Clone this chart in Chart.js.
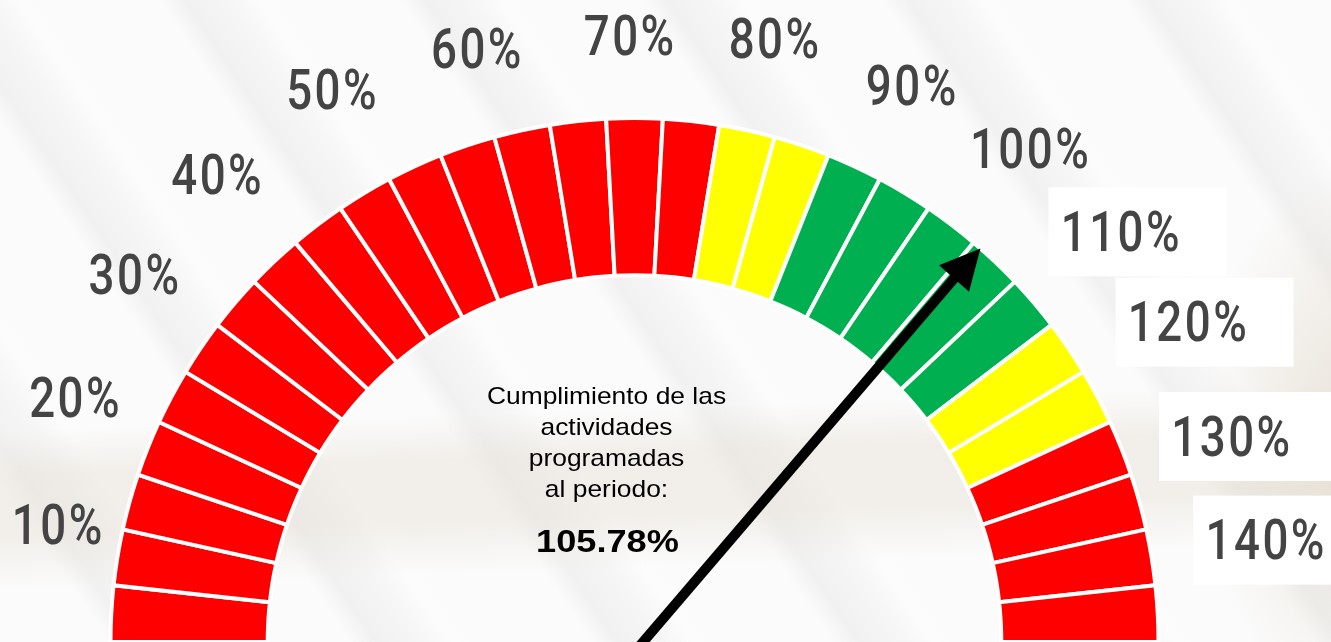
<!DOCTYPE html>
<html>
<head>
<meta charset="utf-8">
<title>Cumplimiento de las actividades</title>
<script src="https://cdn.jsdelivr.net/npm/chart.js@4.4.1/dist/chart.umd.min.js"></script>
<style>
  html, body { margin: 0; padding: 0; }
  body {
    width: 1331px;
    height: 642px;
    overflow: hidden;
    background:
      radial-gradient(ellipse 190px 360px at 1345px 440px, rgba(225, 216, 202, 0.7), rgba(225, 216, 202, 0) 75%),
      linear-gradient(178deg, rgba(230, 223, 212, 0) 430px, rgba(230, 223, 212, 0.45) 475px, rgba(230, 223, 212, 0.45) 535px, rgba(230, 223, 212, 0) 590px),
      repeating-linear-gradient(56deg, #fbfbfb 0px, #fbfbfb 90px, #f1f1f1 112px, #f6f6f6 150px, #fcfcfc 175px, #fbfbfb 200px),
      #f9f9f9;
  }
  canvas { display: block; }
</style>
</head>
<body>
<canvas id="gauge-chart" width="1331" height="642"></canvas>
<script>
// 29 segments of 5% each, scale 0 - 145%
const segmentValues = [5, 5, 5, 5, 5, 5, 5, 5, 5, 5, 5, 5, 5, 5, 5, 5, 5, 5, 5, 5, 5, 5, 5, 5, 5, 5, 5, 5, 5];
const bandLimits = [80, 90, 115, 125, 145];
const bandColors = ['#ff0000', '#ffff00', '#00b050', '#ffff00', '#ff0000'];

const tickValues = [10, 20, 30, 40, 50, 60, 70, 80, 90, 100, 110, 120, 130, 140];
const tickLabels = ['10%', '20%', '30%', '40%', '50%', '60%', '70%', '80%', '90%', '100%', '110%', '120%', '130%', '140%'];
const boxedTicks = [110, 120, 130, 140];

const cumplimiento = 105.78;
const centerLines = ['Cumplimiento de las', 'actividades', 'programadas', 'al periodo:'];
const centerValue = '105.78%';

// layout tweaks for the tick labels: [angle nudge in degrees, radius]
const labelNudge = [
  [-0.9, 588], [-1.2, 610], [-0.9, 620], [-1.4, 626], [-0.7, 630], [0.7, 614], [2.7, 607],
  [3.8, 620], [4.8, 622], [4.6, 633], [3.3, 637], [1.0, 640], [-0.4, 632], [-3.0, 640]
];


const segmentColors = () => {
  const colors = [];
  let end = 0;
  segmentValues.forEach((v) => {
    end += v;
    const band = bandLimits.findIndex((limit) => end <= limit);
    colors.push(bandColors[band]);
  });
  return colors;
};

const scaleMax = () => segmentValues.reduce((a, b) => a + b, 0);

const stretchedText = (ctx, text, x, y, sx) => {
  ctx.save();
  ctx.translate(x, y);
  ctx.scale(sx, 1);
  ctx.fillText(text, 0, 0);
  ctx.restore();
};

const gaugeExtras = {
  id: 'gaugeExtras',
  afterDraw(chart) {
    const ctx = chart.ctx;
    const arc = chart.getDatasetMeta(0).data[0];
    const cx = arc.x;
    const cy = arc.y;
    const outer = arc.outerRadius;
    const angleFor = (v) => -Math.PI + (v / scaleMax()) * Math.PI;

    // tick labels
    ctx.save();
    ctx.font = '500 55px Roboto';
    ctx.letterSpacing = '3px';
    ctx.textAlign = 'center';
    ctx.textBaseline = 'alphabetic';
    tickValues.forEach((v, i) => {
      const a = angleFor(v) + labelNudge[i][0] * Math.PI / 180;
      const r = labelNudge[i][1];
      const x = cx + r * Math.cos(a);
      const y = cy + r * Math.sin(a);
      if (boxedTicks.includes(v)) {
        ctx.fillStyle = '#ffffff';
        ctx.fillRect(x - 73, y - 44, 178, 89);
      }
      ctx.fillStyle = '#444444';
      stretchedText(ctx, tickLabels[i], x, y + 19.5, 0.83);
    });
    ctx.restore();

    // text in the middle
    ctx.save();
    ctx.fillStyle = '#000000';
    ctx.textAlign = 'center';
    ctx.textBaseline = 'middle';
    ctx.font = '24px "Liberation Sans", Arial, sans-serif';
    centerLines.forEach((line, i) => {
      stretchedText(ctx, line, cx - 28, 397 + i * 31, 1.1);
    });
    ctx.font = 'bold 32px "Liberation Sans", Arial, sans-serif';
    stretchedText(ctx, centerValue, cx - 27, 543, 1.13);
    ctx.restore();

    // needle
    const a = angleFor(cumplimiento);
    const dx = Math.cos(a);
    const dy = Math.sin(a);
    const tipX = cx + outer * dx;
    const tipY = cy + outer * dy;
    const headLen = 40;
    const headHalf = 20;
    const baseX = tipX - headLen * dx;
    const baseY = tipY - headLen * dy;
    ctx.save();
    ctx.strokeStyle = '#000000';
    ctx.fillStyle = '#000000';
    ctx.lineWidth = 10;
    ctx.beginPath();
    ctx.moveTo(cx, cy + 10);
    ctx.lineTo(baseX + 4 * dx, baseY + 4 * dy);
    ctx.stroke();
    ctx.beginPath();
    ctx.moveTo(tipX, tipY);
    ctx.lineTo(baseX - headHalf * dy, baseY + headHalf * dx);
    ctx.lineTo(baseX + headHalf * dy, baseY - headHalf * dx);
    ctx.closePath();
    ctx.fill();
    ctx.restore();
  }
};

const gaugeChart = () => {
  const ctx = document.getElementById('gauge-chart').getContext('2d');
  new Chart(ctx, {
    type: 'doughnut',
    data: {
      labels: segmentValues.map((v, i) => `${i * 5}-${i * 5 + v}%`),
      datasets: [{
        data: segmentValues,
        backgroundColor: segmentColors(),
        borderColor: '#ffffff',
        borderWidth: 4,
        hoverOffset: 0
      }]
    },
    options: {
      responsive: false,
      animation: false,
      events: [],
      rotation: -90,
      circumference: 180,
      cutout: '70%',
      radius: 524,
      layout: {
        padding: { top: 118, bottom: 0, left: 0, right: 62 }
      },
      plugins: {
        legend: { display: false },
        tooltip: { enabled: false }
      }
    },
    plugins: [gaugeExtras]
  });
};

gaugeChart();
</script>
</body>
</html>
